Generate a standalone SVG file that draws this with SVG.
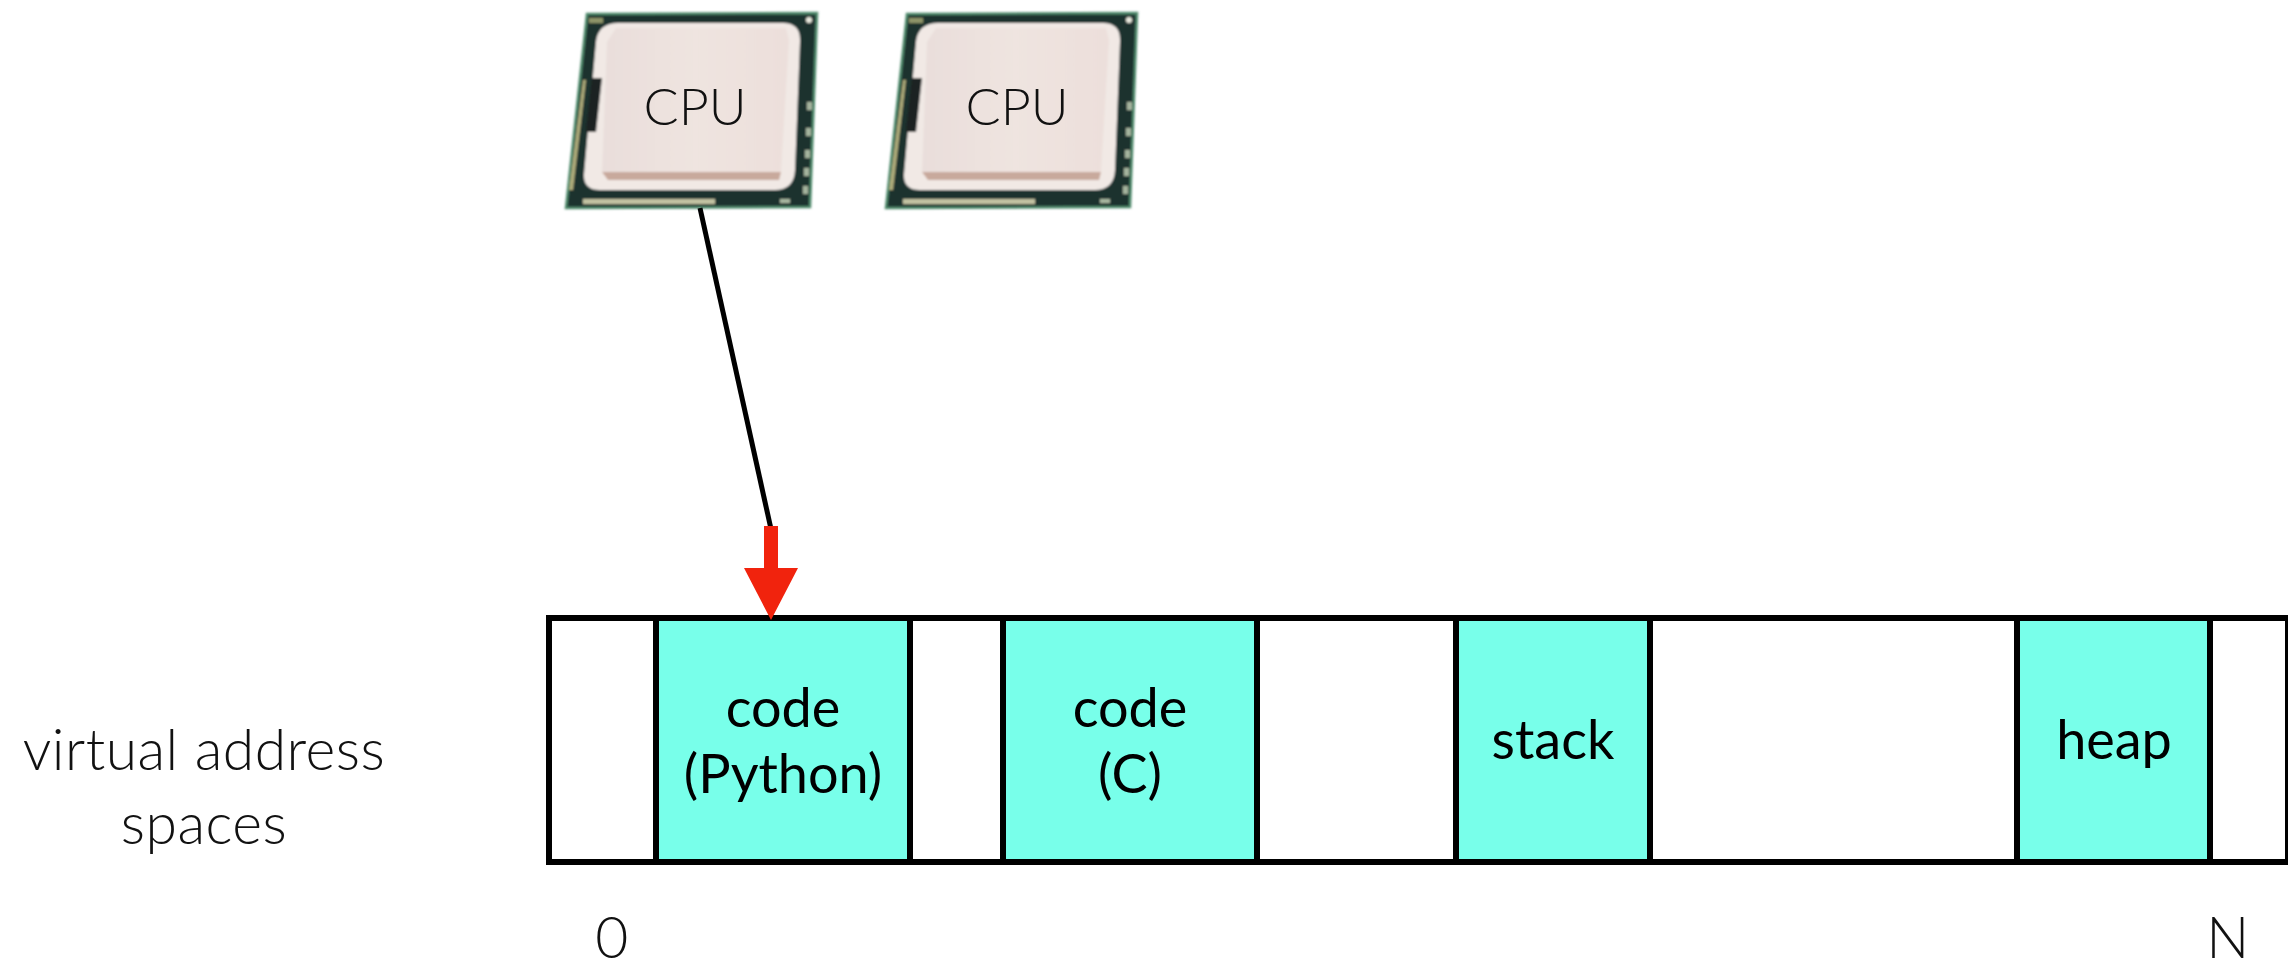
<svg xmlns="http://www.w3.org/2000/svg" width="2288" height="962" viewBox="0 0 2288 962">
<style>
.lbl{font-family:"Lato","Liberation Sans",sans-serif;font-size:54px;fill:#000;text-anchor:middle}
.thin{font-family:"Lato","Liberation Sans",sans-serif;font-weight:300;font-size:57px;letter-spacing:.5px;fill:#111;text-anchor:middle}
.cpu{font-family:"Lato","Liberation Sans",sans-serif;font-weight:300;font-size:52px;fill:#111;text-anchor:middle}
.seg{fill:#78ffea;stroke:#000;stroke-width:6}
</style>
<defs>
<filter id="soft" x="-5%" y="-5%" width="110%" height="110%"><feGaussianBlur stdDeviation="0.8"/></filter>
<linearGradient id="lid" x1="0" y1="0" x2="1" y2="0"><stop offset="0" stop-color="#e9dedb"/><stop offset=".5" stop-color="#efe4e0"/><stop offset="1" stop-color="#ecdfdb"/></linearGradient>
<g id="chip" filter="url(#soft)">
<polygon points="587,14 817,13 810,207 566,208" fill="#1d302d" stroke="#4f8a6c" stroke-width="2.5"/>
<polygon points="583,80 586,80 573,190 569,190" fill="#b0ad7c"/>
<rect x="583" y="199" width="132" height="5" fill="#c2c2a2"/>
<rect x="780" y="199" width="10" height="4" fill="#a8b8a0"/>
<circle cx="809" cy="20" r="3" fill="#ecece0"/>
<rect x="589" y="18" width="14" height="5" fill="#8d9468"/>
<rect x="807" y="102" width="5" height="8" fill="#a5b49e"/><rect x="806" y="128" width="5" height="8" fill="#a5b49e"/><rect x="805" y="150" width="5" height="8" fill="#a5b49e"/><rect x="804" y="168" width="5" height="8" fill="#a5b49e"/><rect x="803" y="186" width="5" height="8" fill="#a5b49e"/>
<path d="M618,23 H783 Q801,23 800,42 L795,170 Q794,190 775,190 H600 Q583,190 584,174 L596,42 Q598,23 618,23 Z" fill="#f1e9e5"/>
<path d="M616,28 H786 L789,40 L781,172 H602 L607,42 Z" fill="url(#lid)"/>
<polygon points="602,172 781,172 779,180 608,180" fill="#c8a99c"/>
<polygon points="592,78 602,78 596,132 586,132" fill="#1a2220"/>
</g>
</defs>
<g id="cpu-1"><use href="#chip"/><text class="cpu" x="695" y="125">CPU</text></g>
<g id="cpu-2"><use href="#chip" x="320"/><text class="cpu" x="1017" y="125">CPU</text></g>
<g id="address-space">
<rect x="549" y="618" width="1739" height="244" fill="#fff" stroke="#000" stroke-width="6"/>
</g>
<g id="seg-code-python"><rect class="seg" x="656" y="618" width="254" height="244"/><text class="lbl" x="783" y="727">code</text><text class="lbl" x="783" y="793">(Python)</text></g>
<g id="seg-code-c"><rect class="seg" x="1003" y="618" width="254" height="244"/><text class="lbl" x="1130" y="727">code</text><text class="lbl" x="1130" y="793">(C)</text></g>
<g id="seg-stack"><rect class="seg" x="1456" y="618" width="194" height="244"/><text class="lbl" x="1553" y="759">stack</text></g>
<g id="seg-heap"><rect class="seg" x="2017" y="618" width="193" height="244"/><text class="lbl" x="2114" y="759">heap</text></g>
<g id="connectors">
<line x1="700" y1="208" x2="771" y2="529" stroke="#000" stroke-width="5"/>
<polygon points="764,526 778,526 778,568 798,568 771,620 744,568 764,568" fill="#f1230d"/>
</g>
<g id="label-vas"><text class="thin" x="204" y="770">virtual address</text><text class="thin" x="204" y="844">spaces</text></g>
<g id="label-0"><text class="thin" x="612" y="958">0</text></g>
<g id="label-n"><text class="thin" x="2228" y="958">N</text></g>
</svg>
